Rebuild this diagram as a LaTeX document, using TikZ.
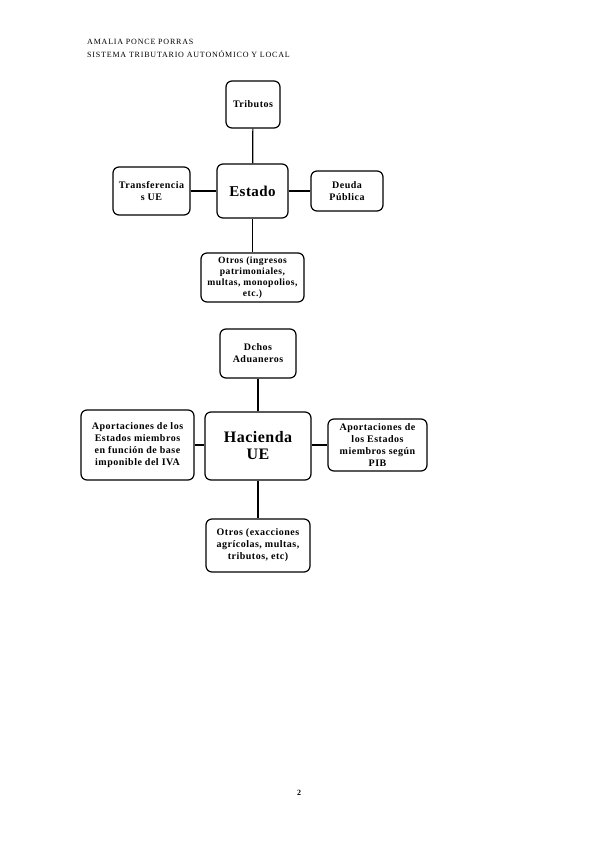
\documentclass[tikz,border=0pt]{standalone}
\usepackage{fontspec}
\setmainfont[LetterSpace=5]{Liberation Serif}
\newfontfamily\hdrfont[LetterSpace=10]{Liberation Serif}
\newfontfamily\bigfont[LetterSpace=3]{Liberation Serif}
\begin{document}
\begin{tikzpicture}[x=1pt,y=-1pt,
  box/.style={draw,line width=1.2pt,rounded corners=6pt,inner sep=0pt,align=center,font=\fontsize{10}{12}\selectfont\bfseries},
  big/.style={box,font=\bigfont\fontsize{15}{17}\selectfont\bfseries},
  conn/.style={line width=1.2pt},
  hdr/.style={anchor=west,inner sep=0pt,font=\hdrfont\fontsize{8}{9}\selectfont}]
\useasboundingbox (0,0) rectangle (599,848);
\node[hdr] (h1) at (87,42) {AMALIA PONCE PORRAS};
\node[hdr] (h2) at (87,54) {SISTEMA TRIBUTARIO AUTONÓMICO Y LOCAL};
% Estado group
\node[box,minimum width=54pt,minimum height=47pt] (trib) at (253,104.5) {Tributos};
\node[big,minimum width=71pt,minimum height=54pt] (est) at (252.5,191) {Estado};
\node[box,minimum width=77pt,minimum height=48pt] (trans) at (151.5,191) {Transferencia\\s UE};
\node[box,minimum width=72pt,minimum height=40pt] (deuda) at (347,191) {Deuda\\Pública};
\node[box,minimum width=103pt,minimum height=49pt,font=\fontsize{9.6}{11}\selectfont\bfseries] (otros1) at (252.5,277.5) {Otros (ingresos\\patrimoniales,\\multas, monopolios,\\etc.)};
\draw[conn] (trib) -- (est);
\draw[conn] (est) -- (otros1);
\draw[conn] (trans) -- (est);
\draw[conn] (est) -- (deuda);
% Hacienda group
\node[box,minimum width=76pt,minimum height=49pt] (dchos) at (258,353.5) {Dchos\\Aduaneros};
\node[big,minimum width=106pt,minimum height=68pt,font=\bigfont\fontsize{16}{17}\selectfont\bfseries] (hac) at (258,446) {Hacienda\\UE};
\node[box,minimum width=113pt,minimum height=70pt] (apl) at (137.5,445) {Aportaciones de los\\Estados miembros\\en función de base\\imponible del IVA};
\node[box,minimum width=99pt,minimum height=52pt] (apr) at (377.5,445) {Aportaciones de\\los Estados\\miembros según\\PIB};
\node[box,minimum width=104pt,minimum height=53pt] (otros2) at (258,545.5) {Otros (exacciones\\agrícolas, multas,\\tributos, etc)};
\draw[conn] (dchos) -- (hac);
\draw[conn] (hac) -- (otros2);
\draw[conn] (apl) -- (apl -| hac.west);
\draw[conn] (hac.east |- apr) -- (apr);
\node[inner sep=0pt,font=\fontsize{8}{9}\selectfont\bfseries] (pg) at (299,793) {2};
\end{tikzpicture}
\end{document}
